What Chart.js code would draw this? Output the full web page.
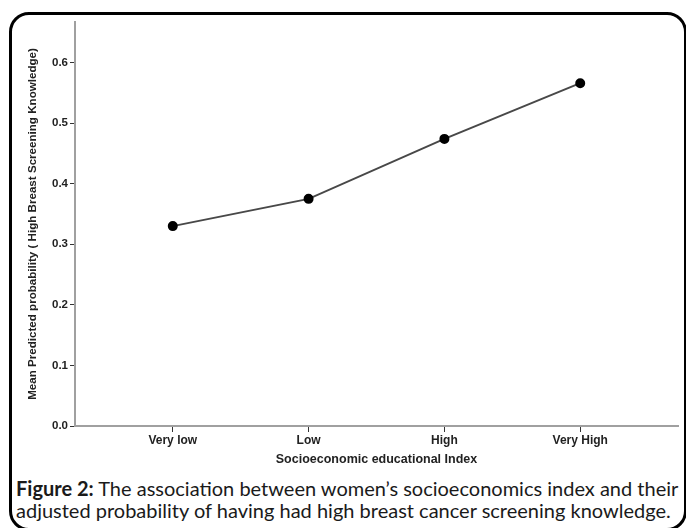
<!DOCTYPE html>
<html>
<head>
<meta charset="utf-8">
<script src="https://cdn.jsdelivr.net/npm/chart.js@4"></script>
<style>
  html, body { margin: 0; padding: 0; background: #fff; }
  body { width: 686px; height: 528px; position: relative; overflow: hidden; }
  #chart { position: absolute; left: 0; top: 0; }
  .frame {
    position: absolute; left: 9px; top: 12px; width: 678px; height: 519px;
    box-sizing: border-box; border: 3px solid #000; border-radius: 20px;
  }
  .cap {
    position: absolute; left: 16px; white-space: nowrap;
    font-family: Lato, "Open Sans", sans-serif; font-size: 20px; line-height: 22px; color: #1a1a1a;
  }
</style>
</head>
<body>
<div class="frame"></div>
<canvas id="chart" width="686" height="475"></canvas>
<div class="cap" style="top:477px"><b>Figure 2:</b> The association between women’s socioeconomics index and their</div>
<div class="cap" style="top:499px">adjusted probability of having had high breast cancer screening knowledge.</div>
<script>
const categories = ['Very low', 'Low', 'High', 'Very High'];
const probabilities = [0.330, 0.375, 0.474, 0.566];
const yTicks = [0, 0.1, 0.2, 0.3, 0.4, 0.5, 0.6];
const xTitle = 'Socioeconomic educational Index';
const yTitle = 'Mean Predicted probability ( High Breast Screening Knowledge)';

const axisFont = { family: '"Liberation Sans", Arial, sans-serif', weight: 'bold', size: 12 };

const ctx = document.getElementById('chart').getContext('2d');
new Chart(ctx, {
  type: 'line',
  data: {
    datasets: [{
      data: categories.map((c, i) => ({ x: i, y: probabilities[i] })),
      borderColor: '#484848',
      borderWidth: 2,
      pointBackgroundColor: '#000',
      pointBorderColor: '#000',
      pointRadius: 4,
      tension: 0,
    }],
  },
  options: {
    responsive: false,
    devicePixelRatio: 1,
    animation: false,
    layout: { padding: { left: 0, top: 22, right: 8, bottom: 0 } },
    plugins: { legend: { display: false }, tooltip: { enabled: false } },
    scales: {
      x: {
        type: 'linear',
        min: -0.72,
        max: 3.72,
        afterBuildTicks: s => { s.ticks = categories.map((c, i) => ({ value: i })); },
        afterFit: s => { s.height = 49; },
        grid: { drawOnChartArea: false, tickLength: 6, tickColor: '#333', tickWidth: 1 },
        border: { color: '#a0a0a0', width: 2 },
        ticks: { callback: v => categories[v], font: axisFont, color: '#222', padding: 1, maxRotation: 0 },
        title: { display: true, text: xTitle, font: { ...axisFont, size: 12.5 }, color: '#222', padding: { top: 0, bottom: 8 } },
      },
      y: {
        min: 0,
        max: 0.667,
        afterBuildTicks: s => { s.ticks = yTicks.map(v => ({ value: v })); },
        afterFit: s => { s.width = 75; },
        grid: { drawOnChartArea: false, tickLength: 5, tickColor: '#333', tickWidth: 1 },
        border: { color: '#a0a0a0', width: 2 },
        ticks: { callback: v => v.toFixed(1), font: { ...axisFont, size: 11.5 }, color: '#222', padding: 2 },
        title: { display: true, text: yTitle, font: { ...axisFont, size: 11.6 }, color: '#222', padding: { top: 26, bottom: 0 } },
      },
    },
  },
});
</script>
</body>
</html>
